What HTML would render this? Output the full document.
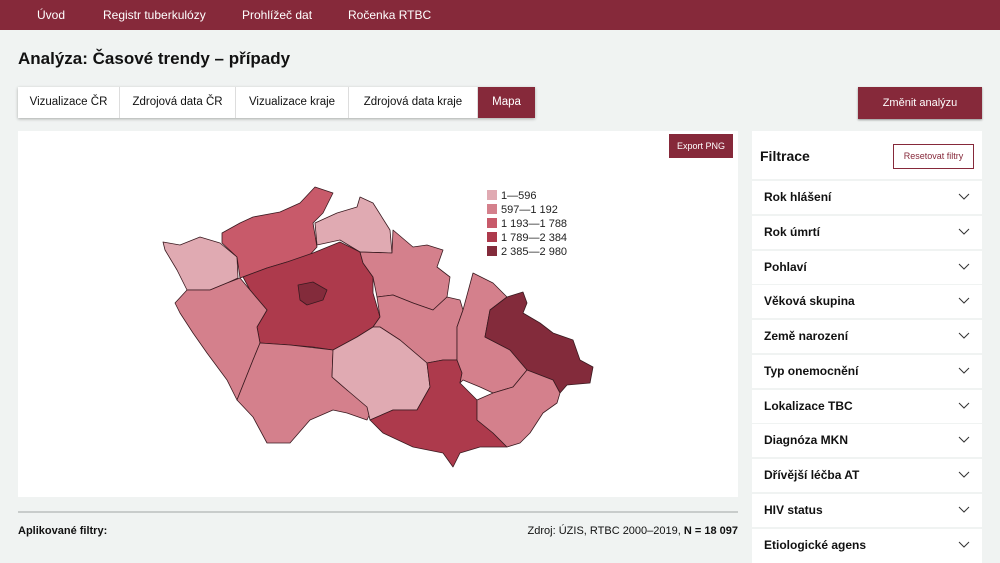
<!DOCTYPE html><html><head><meta charset="utf-8"><style>
*{margin:0;padding:0;box-sizing:border-box}
body{width:1000px;height:561px;overflow:hidden;background:#f0f3f2;font-family:"Liberation Sans",sans-serif;position:relative;color:#111}
.hdr{position:absolute;left:0;top:0;width:1000px;height:30px;background:#86293a}
.hdr span{position:absolute;top:8px;color:#fff;font-size:12px}
.abs{position:absolute}
.tabs{position:absolute;left:18px;top:87px;height:31px;display:flex;background:#fff;box-shadow:0 1px 3px rgba(0,0,0,.3)}
.tabs div{height:31px;line-height:31px;font-size:11.5px;white-space:nowrap;text-align:center;border-right:1px solid #ddd;overflow:hidden}
.row{position:absolute;left:752px;width:230px;height:33px;background:#fff;font-weight:bold;font-size:12px;line-height:33px;padding-left:12px}
.row svg{position:absolute;right:12px;top:12px}
</style></head><body>
<div class="hdr"><span style="left:37px">Úvod</span><span style="left:103px">Registr tuberkulózy</span><span style="left:242px">Prohlížeč dat</span><span style="left:348px">Ročenka RTBC</span></div>
<div class="abs" style="left:18px;top:49px;font-size:17px;font-weight:bold">Analýza: Časové trendy – případy</div>
<div class="tabs"><div style="width:102px">Vizualizace ČR</div><div style="width:116px">Zdrojová data ČR</div><div style="width:113px">Vizualizace kraje</div><div style="width:129px">Zdrojová data kraje</div><div style="width:57px;background:#86293a;color:#fff;border:none">Mapa</div></div>
<div class="abs" style="left:858px;top:87px;width:124px;height:32px;background:#86293a;color:#fff;font-size:11px;text-align:center;line-height:32px;box-shadow:0 1px 2px rgba(0,0,0,.4)">Změnit analýzu</div>
<div class="abs" style="left:18px;top:131px;width:720px;height:366px;background:#fff"></div>
<div class="abs" style="left:669px;top:134px;width:64px;height:24px;background:#86293a;color:#fff;font-size:9px;text-align:center;line-height:24px">Export PNG</div>
<svg class="abs" style="left:0;top:0" width="1000" height="561" stroke="#3a1a20" stroke-width="0.8" stroke-linejoin="round">
<polygon fill="#e0aab2" points="163,242 180,245 200,237 220,243 237,257 238,278 227,283 210,290 187,290 177,270 165,250"/>
<polygon fill="#c85a6a" points="222,233 240,223 253,217 280,212 300,203 315,187 333,193 323,213 313,223 317,247 307,258 287,262 267,268 240,278 237,257 222,243"/>
<polygon fill="#e0aab2" points="315,223 337,213 357,207 360,197 373,203 390,230 392,253 360,252 340,240 317,245"/>
<polygon fill="#ad3a4c" points="243,277 267,268 287,262 313,253 340,242 360,252 363,263 373,277 373,293 380,317 373,327 357,337 333,350 313,347 290,345 260,343 257,327 267,310 250,290"/>
<polygon fill="#832b3b" points="298,285 313,282 327,290 323,300 307,305 300,300"/>
<polygon fill="#d4808c" points="175,303 187,290 210,290 227,283 240,278 250,290 267,310 257,327 260,343 253,360 237,400 227,380 207,353 193,333 180,313"/>
<polygon fill="#d4808c" points="260,343 290,345 333,350 332,377 347,390 373,407 367,420 347,413 333,410 310,420 290,443 267,443 253,417 237,400 253,360"/>
<polygon fill="#d4808c" points="360,252 392,253 393,230 413,247 427,245 443,250 437,267 450,277 447,297 433,310 413,303 393,295 377,297 373,277 363,263"/>
<polygon fill="#d4808c" points="377,297 393,295 413,303 433,310 447,297 460,300 463,310 457,327 457,360 443,360 427,363 400,340 380,327 373,327 380,317"/>
<polygon fill="#e0aab2" points="373,327 380,327 400,340 427,363 430,387 417,410 393,410 370,420 367,407 347,390 332,377 333,350 357,337"/>
<polygon fill="#ad3a4c" points="427,363 443,360 457,360 462,373 460,383 477,400 477,420 493,433 507,447 480,447 460,453 453,467 443,453 413,447 383,433 370,420 393,410 417,410 430,387"/>
<polygon fill="#d4808c" points="457,327 463,310 473,273 493,283 507,297 490,310 485,337 510,350 527,370 513,387 493,393 480,387 463,380 460,383 462,373 457,360"/>
<polygon fill="#832b3b" points="490,310 507,297 523,292 527,303 523,313 540,323 553,333 573,340 580,360 593,367 590,383 567,385 560,393 553,380 527,370 510,350 485,337"/>
<polygon fill="#d4808c" points="477,400 493,393 513,387 527,370 553,380 560,393 557,403 543,413 530,433 520,443 507,447 493,433 477,420"/>
<g stroke="none" font-size="11" fill="#222">
<rect x="487" y="190" width="10" height="10" fill="#e0aab2"/><text x="501" y="199">1—596</text>
<rect x="487" y="204" width="10" height="10" fill="#d4808c"/><text x="501" y="213">597—1 192</text>
<rect x="487" y="218" width="10" height="10" fill="#c85a6a"/><text x="501" y="227">1 193—1 788</text>
<rect x="487" y="232" width="10" height="10" fill="#ad3a4c"/><text x="501" y="241">1 789—2 384</text>
<rect x="487" y="246" width="10" height="10" fill="#832b3b"/><text x="501" y="255">2 385—2 980</text>
</g></svg>
<div class="abs" style="left:18px;top:511px;width:720px;height:2px;background:#c8cccb"></div>
<div class="abs" style="left:18px;top:525px;font-size:11px;font-weight:bold">Aplikované filtry:</div>
<div class="abs" style="left:438px;top:525px;width:300px;text-align:right;font-size:11px">Zdroj: ÚZIS, RTBC 2000–2019, <b>N = 18 097</b></div>
<div class="abs" style="left:752px;top:131px;width:230px;height:48px;background:#fff"><div class="abs" style="left:8px;top:17px;font-size:14px;font-weight:bold">Filtrace</div><div class="abs" style="left:141px;top:13px;width:81px;height:25px;border:1.5px solid #86293a;color:#86293a;font-size:9px;text-align:center;line-height:22px">Resetovat filtry</div></div>
<div class="row" style="top:181px">Rok hlášení<svg width="12" height="8"><polyline points="1,1 6,6 11,1" fill="none" stroke="#333"/></svg></div>
<div class="row" style="top:216px">Rok úmrtí<svg width="12" height="8"><polyline points="1,1 6,6 11,1" fill="none" stroke="#333"/></svg></div>
<div class="row" style="top:251px">Pohlaví<svg width="12" height="8"><polyline points="1,1 6,6 11,1" fill="none" stroke="#333"/></svg></div>
<div class="row" style="top:285px">Věková skupina<svg width="12" height="8"><polyline points="1,1 6,6 11,1" fill="none" stroke="#333"/></svg></div>
<div class="row" style="top:320px">Země narození<svg width="12" height="8"><polyline points="1,1 6,6 11,1" fill="none" stroke="#333"/></svg></div>
<div class="row" style="top:355px">Typ onemocnění<svg width="12" height="8"><polyline points="1,1 6,6 11,1" fill="none" stroke="#333"/></svg></div>
<div class="row" style="top:390px">Lokalizace TBC<svg width="12" height="8"><polyline points="1,1 6,6 11,1" fill="none" stroke="#333"/></svg></div>
<div class="row" style="top:424px">Diagnóza MKN<svg width="12" height="8"><polyline points="1,1 6,6 11,1" fill="none" stroke="#333"/></svg></div>
<div class="row" style="top:459px">Dřívější léčba AT<svg width="12" height="8"><polyline points="1,1 6,6 11,1" fill="none" stroke="#333"/></svg></div>
<div class="row" style="top:494px">HIV status<svg width="12" height="8"><polyline points="1,1 6,6 11,1" fill="none" stroke="#333"/></svg></div>
<div class="row" style="top:529px;height:34px">Etiologické agens<svg width="12" height="8"><polyline points="1,1 6,6 11,1" fill="none" stroke="#333"/></svg></div>
</body></html>
